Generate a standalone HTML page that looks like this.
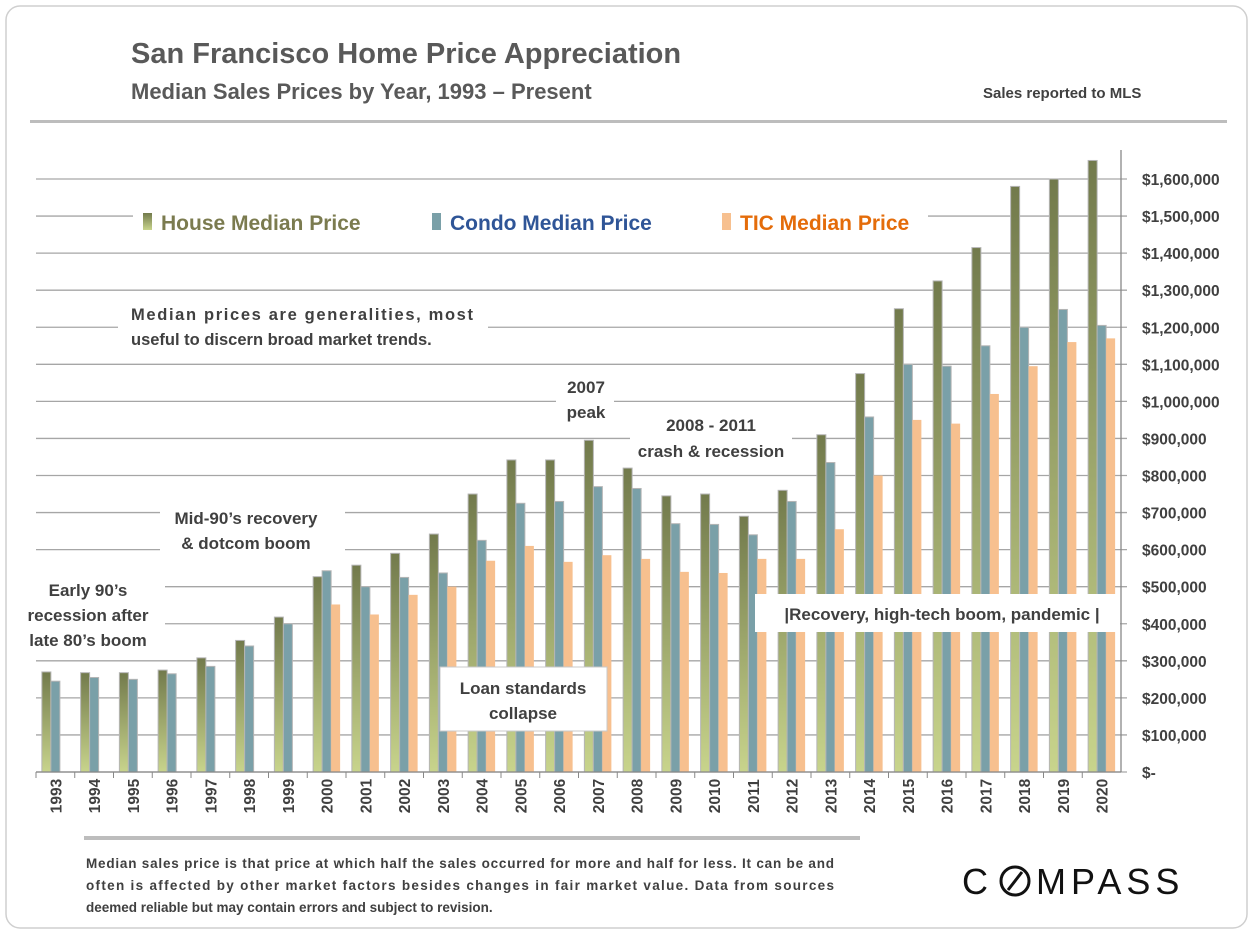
<!DOCTYPE html>
<html><head><meta charset="utf-8"><style>
body{margin:0;background:#fff;font-family:"Liberation Sans",sans-serif;}
#wrap{position:relative;width:1254px;height:936px;overflow:hidden;}
</style></head><body>
<div id="wrap">
<svg id="chart" width="1254" height="936" xmlns="http://www.w3.org/2000/svg">
<defs>
<linearGradient id="gh" x1="0" y1="0" x2="0" y2="1"><stop offset="0" stop-color="#727a4c"/><stop offset="1" stop-color="#c8d48c"/></linearGradient>
</defs>
<rect x="6" y="6" width="1241" height="922" rx="14" fill="#fff" stroke="#cfcfcf" stroke-width="1.5"/>
<text x="131" y="63" font-size="29" font-weight="bold" fill="#595959">San Francisco Home Price Appreciation</text>
<text x="131" y="99" font-size="22" font-weight="bold" fill="#595959">Median Sales Prices by Year, 1993 – Present</text>
<text x="983" y="98" font-size="15" font-weight="bold" fill="#404040">Sales reported to MLS</text>
<rect x="30" y="120" width="1197" height="3" fill="#bdbdbd"/>
<g id="grid"></g><g id="bars"></g><g id="axes"></g>
<g id="notes">
<rect x="133" y="202" width="795" height="42" fill="#fff"/>
<rect x="143" y="213" width="9" height="17" fill="url(#gh)"/>
<text x="161" y="230" font-size="21" font-weight="bold" fill="#7b7b4f">House Median Price</text>
<rect x="432" y="213" width="9" height="17" fill="#7aa0a8"/>
<text x="450" y="230" font-size="21" font-weight="bold" fill="#2f5597">Condo Median Price</text>
<rect x="722" y="213" width="9" height="17" fill="#f7c08f"/>
<text x="740" y="230" font-size="21" font-weight="bold" fill="#e46c0a">TIC Median Price</text>
<rect x="118" y="296" width="370" height="58" fill="#fff"/>
<text x="131" y="320" font-size="16.5" font-weight="bold" fill="#404040" textLength="342">Median prices are generalities, most</text>
<text x="131" y="345" font-size="16.5" font-weight="bold" fill="#404040">useful to discern broad market trends.</text>
<rect x="15" y="570" width="150" height="90" fill="#fff"/>
<g font-size="17" font-weight="bold" fill="#404040" text-anchor="middle">
<text x="88" y="596">Early 90’s</text><text x="88" y="621">recession after</text><text x="88" y="646">late 80’s boom</text></g>
<rect x="160" y="503" width="185" height="52" fill="#fff"/>
<g font-size="17" font-weight="bold" fill="#404040" text-anchor="middle">
<text x="246" y="524">Mid-90’s recovery</text><text x="246" y="549">&amp; dotcom boom</text></g>
<rect x="556" y="372" width="58" height="52" fill="#fff"/>
<g font-size="17" font-weight="bold" fill="#404040" text-anchor="middle">
<text x="586" y="393">2007</text><text x="586" y="418">peak</text></g>
<rect x="630" y="410" width="162" height="54" fill="#fff"/>
<g font-size="17" font-weight="bold" fill="#404040" text-anchor="middle">
<text x="711" y="431">2008 - 2011</text><text x="711" y="457">crash &amp; recession</text></g>
<rect x="440" y="667" width="167" height="64" fill="#fff" stroke="#c8c8c8"/>
<g font-size="17" font-weight="bold" fill="#404040" text-anchor="middle">
<text x="523" y="694">Loan standards</text><text x="523" y="719">collapse</text></g>
<rect x="755" y="594" width="365" height="38" fill="#fff"/>
<text x="942" y="620" font-size="17" font-weight="bold" fill="#404040" text-anchor="middle">|Recovery, high-tech boom, pandemic |</text>
</g>
<rect x="84" y="836" width="776" height="4" fill="#bdbdbd"/>
<g font-size="13.5" font-weight="bold" fill="#404040">
<text x="86" y="868" textLength="748">Median sales price is that price at which half the sales occurred for more and half for less. It can be and</text>
<text x="86" y="890" textLength="748">often is affected by other market factors besides changes in fair market value. Data from sources</text>
<text x="86" y="912">deemed reliable but may contain errors and subject to revision.</text></g>
<g>
<text x="962" y="894" font-size="36" fill="#111" letter-spacing="5">C</text>
<circle cx="1015" cy="881" r="14" fill="none" stroke="#111" stroke-width="3"/>
<line x1="1008" y1="890" x2="1022" y2="872" stroke="#111" stroke-width="3"/>
<text x="1036" y="894" font-size="36" fill="#111" letter-spacing="5">MPASS</text></g>
</svg>
</div>
<script>
const years=["1993","1994","1995","1996","1997","1998","1999","2000","2001","2002","2003","2004","2005","2006","2007","2008","2009","2010","2011","2012","2013","2014","2015","2016","2017","2018","2019","2020"];
const houseValues=[270,268,268,275,308,355,418,527,558,590,642,750,842,842,895,820,745,750,690,760,910,1075,1250,1325,1415,1580,1600,1650];
const condoValues=[245,255,250,265,285,340,400,543,500,525,537,625,725,730,770,765,670,668,640,730,835,958,1100,1095,1150,1200,1248,1205];
const ticValues=[null,null,null,null,null,null,null,452,425,478,500,570,610,567,585,575,540,537,575,575,655,800,950,940,1020,1095,1160,1170];
const tickValues=[0,100,200,300,400,500,600,700,800,900,1000,1100,1200,1300,1400,1500,1600];
const tickLabels=["$-","$100,000","$200,000","$300,000","$400,000","$500,000","$600,000","$700,000","$800,000","$900,000","$1,000,000","$1,100,000","$1,200,000","$1,300,000","$1,400,000","$1,500,000","$1,600,000"];
const NS="http://www.w3.org/2000/svg";
const X0=36,X1=1121,Y0=772,Y1600=179;
const band=(X1-X0)/years.length;
function y(v){return Y0-(Y0-Y1600)*v/1600;}
function xc(i){return X0+band*(i+0.5);}
function mk(tag,attrs,parent){const e=document.createElementNS(NS,tag);for(const k in attrs)e.setAttribute(k,attrs[k]);parent.appendChild(e);return e;}
const grid=document.getElementById('grid'),bars=document.getElementById('bars'),axes=document.getElementById('axes');
tickValues.forEach((t,i)=>{
  const l=mk('line',{x1:X0,x2:X1+6,y1:y(t),y2:y(t),stroke:'#a6a6a6','stroke-width':1.3},grid);
  
  
  const tx=mk('text',{x:1142,y:y(t)+6,'font-size':15.5,'font-weight':'bold',fill:'#404040'},axes);
  tx.textContent=tickLabels[i];
  
  
});
const series=[[houseValues,'url(#gh)','bar-house'],[condoValues,'#7aa0a8','bar-condo'],[ticValues,'#f7c08f','bar-tic']];
years.forEach((yr,i)=>{
  series.forEach((s,j)=>{
    const v=s[0][i]; if(v==null) return;
    const bx=xc(i)-13.5+j*9;
    const r=mk('rect',{x:bx,y:y(v),width:9,height:Y0-y(v),fill:s[1],stroke:j==2?'none':'#b5b5b5','stroke-width':1},bars);
    
    
  });
  const tk=mk('line',{x1:X0+band*i,x2:X0+band*i,y1:Y0,y2:Y0+6,stroke:'#888'},axes);
  
  
  const t=mk('text',{x:0,y:0,'font-size':15.5,'font-weight':'bold',fill:'#404040','text-anchor':'middle',transform:`translate(${xc(i)+6},796) rotate(-90)`},axes);
  t.textContent=yr;
  
  
});
const ax=mk('line',{x1:X0,x2:X1,y1:Y0,y2:Y0,stroke:'#888','stroke-width':1.3},axes);


const ay=mk('line',{x1:X1,x2:X1,y1:150,y2:Y0,stroke:'#888','stroke-width':1.3},axes);


</script>
</body></html>
